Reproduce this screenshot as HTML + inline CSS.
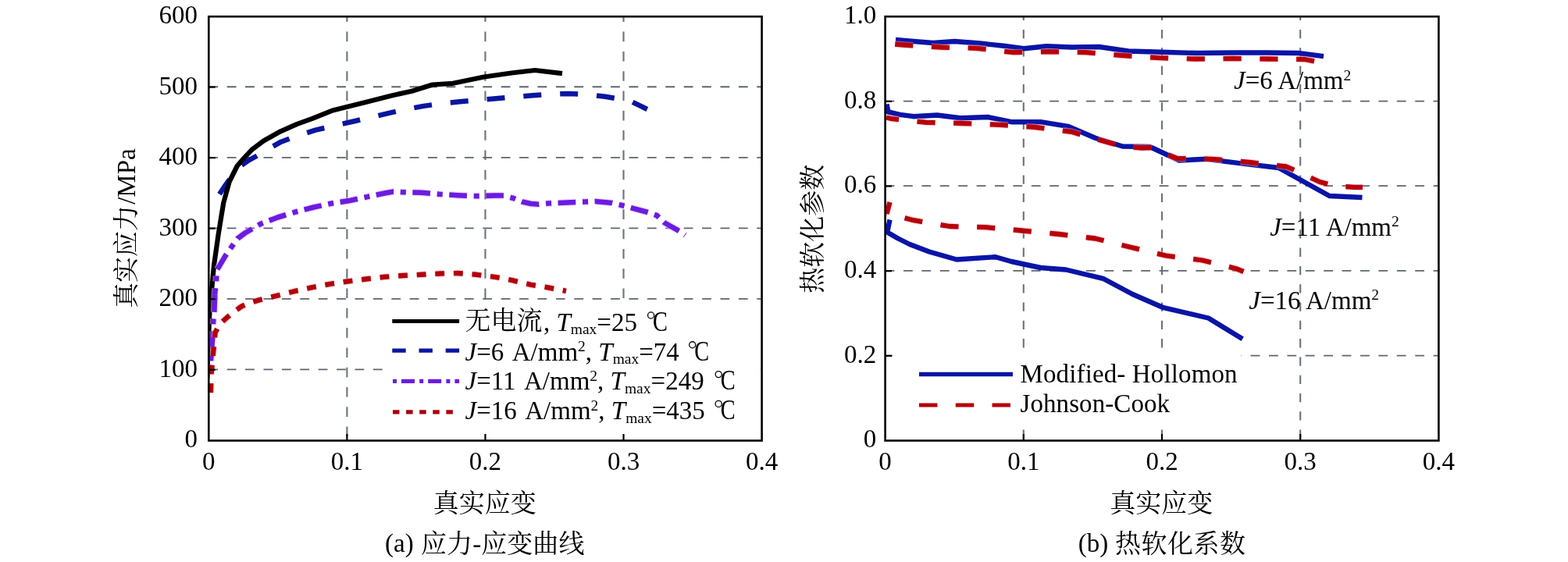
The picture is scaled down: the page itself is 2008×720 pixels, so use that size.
<!DOCTYPE html>
<html><head><meta charset="utf-8"><title>chart</title>
<style>
html,body{margin:0;padding:0;background:#fff;}
svg{display:block;will-change:transform;}
text{font-family:"Liberation Serif","Noto Serif CJK SC",serif;font-size:33px;fill:#000;}
</style></head>
<body>
<svg width="2008" height="720" viewBox="0 0 2008 720">
<rect width="2008" height="720" fill="#fff"/>
<g stroke="#5d656f" stroke-width="1.8" fill="none"><line x1="444.38" y1="21.20" x2="444.38" y2="564.50" stroke-dasharray="12.6 12.7" stroke-dashoffset="5.9" stroke="#69737d" stroke-width="2.1"/><line x1="621.45" y1="21.20" x2="621.45" y2="564.50" stroke-dasharray="12.6 12.7" stroke-dashoffset="5.9" stroke="#69737d" stroke-width="2.1"/><line x1="798.52" y1="21.20" x2="798.52" y2="564.50" stroke-dasharray="12.6 12.7" stroke-dashoffset="5.9" stroke="#69737d" stroke-width="2.1"/><line x1="267.30" y1="111.25" x2="975.60" y2="111.25" stroke-dasharray="11.8 11.6"/><line x1="267.30" y1="201.80" x2="975.60" y2="201.80" stroke-dasharray="11.8 11.6"/><line x1="267.30" y1="292.35" x2="975.60" y2="292.35" stroke-dasharray="11.8 11.6"/><line x1="267.30" y1="382.90" x2="975.60" y2="382.90" stroke-dasharray="11.8 11.6"/><line x1="267.30" y1="473.45" x2="975.60" y2="473.45" stroke-dasharray="11.8 11.6"/></g>
<rect x="493" y="390" width="481" height="172" fill="#fff"/>
<clipPath id="cl"><rect x="267.30" y="21.20" width="708.30" height="543.30"/></clipPath>
<g fill="none" stroke-linejoin="round" clip-path="url(#cl)">
<polyline points="280.0,250.2 287.0,239.7 293.8,230.2 301.0,220.2 308.8,212.2 318.0,205.7 327.5,200.5 343.0,191.2 360.0,181.7 380.0,174.2 404.0,166.7 427.0,161.2 450.5,156.0 473.0,150.7 496.0,145.4 519.0,140.2 542.5,135.9 565.0,132.7 588.8,130.3 612.0,128.2 635.0,126.3 658.0,124.2 682.5,122.3 705.0,120.7 728.8,119.9 752.0,121.1 775.0,123.7 798.0,127.7 810.0,130.7 819.0,135.2 828.8,140.0" stroke="#0a16a0" stroke-width="6.5" stroke-dasharray="23.00 23.95" stroke-dashoffset="-1.80"/>
<polyline points="265.3,485.0 266.0,460.0 267.2,430.0 268.6,395.0 270.3,380.0 274.0,340.0 279.7,300.0 286.2,260.0 293.8,232.5 303.8,212.5 312.5,202.5 322.5,191.8 337.5,180.5 357.5,169.2 380.0,159.2 400.0,151.8 425.0,141.8 445.0,136.8 475.0,129.2 502.5,122.2 527.5,116.8 553.8,108.5 580.0,106.8 620.0,98.5 655.0,93.5 685.0,90.0 720.0,94.2" stroke="#000" stroke-width="6.2"/>
<polyline points="275.2,377.2 275.3,375.0 276.9,360.6 277.5,346.5 288.8,327.5 296.2,316.8 304.4,305.5 313.8,298.5 322.5,293.5 333.8,286.8 355.5,278.5 377.5,271.8 401.8,265.5 425.0,260.5 448.0,257.0 470.0,252.2 493.8,247.2 503.8,245.5 516.2,246.2 539.2,246.8 562.5,248.8 586.2,250.2 610.0,251.2 633.8,250.5 645.0,250.5 657.5,254.0 668.8,258.5 680.0,261.0 690.0,261.8 702.5,260.5 726.2,259.5 750.0,258.5 762.5,258.0 783.8,260.0 796.2,263.0 807.5,266.0 828.8,271.8 841.2,276.0 851.2,285.5 871.2,296.8 877.5,301.2" stroke="#f0b4f8" stroke-opacity="0.55" stroke-width="9.2" stroke-dasharray="7.10 8.50 22.70 8.74" stroke-dashoffset="-16.81"/>
<polyline points="275.2,377.2 275.3,375.0 276.9,360.6 277.5,346.5 288.8,327.5 296.2,316.8 304.4,305.5 313.8,298.5 322.5,293.5 333.8,286.8 355.5,278.5 377.5,271.8 401.8,265.5 425.0,260.5 448.0,257.0 470.0,252.2 493.8,247.2 503.8,245.5 516.2,246.2 539.2,246.8 562.5,248.8 586.2,250.2 610.0,251.2 633.8,250.5 645.0,250.5 657.5,254.0 668.8,258.5 680.0,261.0 690.0,261.8 702.5,260.5 726.2,259.5 750.0,258.5 762.5,258.0 783.8,260.0 796.2,263.0 807.5,266.0 828.8,271.8 841.2,276.0 851.2,285.5 871.2,296.8 877.5,301.2" stroke="#6a1ce2" stroke-width="6.6" stroke-dasharray="7.10 8.50 22.70 8.74" stroke-dashoffset="-16.81"/>
<polyline points="269.4,471.0 270.0,462.5 271.2,445.0 272.5,430.0 273.1,411.9 274.4,398.8 275.2,377.2" stroke="#f0b4f8" stroke-opacity="0.55" stroke-width="9.2" stroke-dasharray="7.10 8.50 22.70 8.74" stroke-dashoffset="-8.63"/>
<polyline points="269.4,471.0 270.0,462.5 271.2,445.0 272.5,430.0 273.1,411.9 274.4,398.8 275.2,377.2" stroke="#6a1ce2" stroke-width="6.6" stroke-dasharray="7.10 8.50 22.70 8.74" stroke-dashoffset="-8.63"/>
<polyline points="269.8,507.0 270.6,478.8 273.1,451.9 275.6,426.2 281.5,415.0 290.6,406.9 300.0,399.0 309.4,392.5 320.0,388.0 331.9,384.4 354.4,378.9 377.5,373.0 400.0,368.2 422.5,363.8 445.0,360.5 468.8,357.5 492.5,354.8 516.2,353.0 540.0,351.8 563.8,350.5 586.2,350.0 610.0,351.8 633.8,354.8 656.2,359.2 680.0,364.8 702.5,368.5 725.0,372.8" stroke="#f8b0cc" stroke-opacity="0.5" stroke-width="8.8" stroke-dasharray="11.90 11.73" stroke-dashoffset="-3.90"/>
<polyline points="269.8,507.0 270.6,478.8 273.1,451.9 275.6,426.2 281.5,415.0 290.6,406.9 300.0,399.0 309.4,392.5 320.0,388.0 331.9,384.4 354.4,378.9 377.5,373.0 400.0,368.2 422.5,363.8 445.0,360.5 468.8,357.5 492.5,354.8 516.2,353.0 540.0,351.8 563.8,350.5 586.2,350.0 610.0,351.8 633.8,354.8 656.2,359.2 680.0,364.8 702.5,368.5 725.0,372.8" stroke="#b40008" stroke-width="6.4" stroke-dasharray="11.90 11.73" stroke-dashoffset="-3.90"/>
</g>
<g stroke="#000" stroke-width="2.2"><line x1="444.38" y1="564.50" x2="444.38" y2="556.00"/><line x1="621.45" y1="564.50" x2="621.45" y2="556.00"/><line x1="798.52" y1="564.50" x2="798.52" y2="556.00"/><line x1="267.30" y1="111.55" x2="275.70" y2="111.55"/><line x1="267.30" y1="202.10" x2="275.70" y2="202.10"/><line x1="267.30" y1="292.65" x2="275.70" y2="292.65"/><line x1="267.30" y1="383.20" x2="275.70" y2="383.20"/><line x1="267.30" y1="473.75" x2="275.70" y2="473.75"/></g>
<rect x="267.30" y="21.20" width="708.30" height="543.30" fill="none" stroke="#000" stroke-width="2.6"/>
<g fill="none">
<line x1="502.3" y1="411.5" x2="588.1" y2="411.5" stroke="#000" stroke-width="5.2"/>
<line x1="502.3" y1="449.2" x2="588.1" y2="449.2" stroke="#0a16a0" stroke-width="5.2" stroke-dasharray="17.4 16.8"/>
<line x1="503" y1="488.4" x2="588.1" y2="488.4" stroke="#6a1ce2" stroke-width="5.2" stroke-dasharray="5 6 17 6.2" />
<line x1="503" y1="527.8" x2="588.1" y2="527.8" stroke="#a8000c" stroke-width="5.2" stroke-dasharray="8.5 8.6"/>
</g>
<g stroke="#5d656f" stroke-width="1.8" fill="none"><line x1="1310.80" y1="21.20" x2="1310.80" y2="564.50" stroke-dasharray="11.3 12.0" stroke-dashoffset="6.5" stroke="#69737d" stroke-width="2.1"/><line x1="1488.00" y1="21.20" x2="1488.00" y2="564.50" stroke-dasharray="11.3 12.0" stroke-dashoffset="6.5" stroke="#69737d" stroke-width="2.1"/><line x1="1665.20" y1="21.20" x2="1665.20" y2="564.50" stroke-dasharray="11.3 12.0" stroke-dashoffset="6.5" stroke="#69737d" stroke-width="2.1"/><line x1="1133.60" y1="129.56" x2="1842.40" y2="129.56" stroke-dasharray="11.8 11.6"/><line x1="1133.60" y1="238.22" x2="1842.40" y2="238.22" stroke-dasharray="11.8 11.6"/><line x1="1133.60" y1="346.88" x2="1842.40" y2="346.88" stroke-dasharray="11.8 11.6"/><line x1="1133.60" y1="455.54" x2="1842.40" y2="455.54" stroke-dasharray="11.8 11.6"/></g>
<rect x="1143" y="447" width="446.5" height="99" fill="#fff"/>
<clipPath id="cr"><rect x="1133.60" y="21.20" width="708.80" height="543.30"/></clipPath>
<g fill="none" stroke-linejoin="round" clip-path="url(#cr)">
<polyline points="1147.0,51.0 1170.0,53.0 1195.0,55.0 1222.5,53.0 1255.0,55.5 1285.0,58.8 1311.2,62.2 1340.0,59.2 1372.5,60.5 1407.5,60.0 1445.0,65.5 1487.5,66.8 1532.5,68.0 1582.5,67.5 1622.0,67.5 1662.5,68.0 1695.0,72.2" stroke="#0a14a6" stroke-width="6.4"/>
<polyline points="1146.0,56.5 1157.5,57.5 1205.0,60.5 1251.2,61.8 1298.0,67.2 1343.8,66.2 1391.2,67.2 1438.0,71.2 1485.0,74.2 1531.2,75.5 1578.8,75.0 1625.0,75.5 1671.0,76.0 1684.0,78.5" stroke="#f8b0cc" stroke-opacity="0.5" stroke-width="8.6" stroke-dasharray="23.20 23.59" stroke-dashoffset="-0.18"/>
<polyline points="1146.0,56.5 1157.5,57.5 1205.0,60.5 1251.2,61.8 1298.0,67.2 1343.8,66.2 1391.2,67.2 1438.0,71.2 1485.0,74.2 1531.2,75.5 1578.8,75.0 1625.0,75.5 1671.0,76.0 1684.0,78.5" stroke="#b80007" stroke-width="6.3" stroke-dasharray="23.20 23.59" stroke-dashoffset="-0.18"/>
<polyline points="1135.5,133.5 1137.5,143.5 1152.5,146.8 1170.0,149.2 1200.0,147.5 1230.0,151.2 1265.0,150.0 1295.0,156.2 1332.5,156.2 1367.5,161.8 1402.5,176.8 1437.5,187.5 1472.5,188.0 1510.0,205.5 1545.0,203.8 1587.5,209.2 1637.5,215.0 1702.5,251.0 1744.5,253.0" stroke="#0a14a6" stroke-width="6.4"/>
<polyline points="1135.0,150.5 1142.5,152.2 1186.2,156.8 1232.5,158.0 1280.0,159.8 1326.2,163.0 1372.0,168.8 1416.8,181.8 1437.5,187.5 1462.5,189.5 1472.5,189.0 1507.5,203.0 1553.0,203.8 1600.0,208.0 1647.5,213.5 1690.0,233.0 1710.0,238.5 1734.2,239.8 1745.0,239.8" stroke="#f8b0cc" stroke-opacity="0.5" stroke-width="8.6" stroke-dasharray="23.20 23.50" stroke-dashoffset="-39.84"/>
<polyline points="1135.0,150.5 1142.5,152.2 1186.2,156.8 1232.5,158.0 1280.0,159.8 1326.2,163.0 1372.0,168.8 1416.8,181.8 1437.5,187.5 1462.5,189.5 1472.5,189.0 1507.5,203.0 1553.0,203.8 1600.0,208.0 1647.5,213.5 1690.0,233.0 1710.0,238.5 1734.2,239.8 1745.0,239.8" stroke="#b80007" stroke-width="6.3" stroke-dasharray="23.20 23.50" stroke-dashoffset="-39.84"/>
<polyline points="1139.5,281.5 1136.2,297.5 1150.0,305.5 1165.0,313.0 1190.0,322.5 1225.0,332.5 1275.0,329.2 1295.0,335.0 1332.5,343.0 1365.0,345.5 1412.5,356.8 1450.0,376.8 1490.0,394.2 1547.5,407.5 1591.2,434.2" stroke="#0a14a6" stroke-width="6.4"/>
<polyline points="1139.5,259.0 1135.5,274.0 1150.0,277.0 1170.0,282.2 1216.2,290.0 1262.5,291.2 1308.8,295.5 1356.2,300.0 1402.5,305.5 1448.0,316.8 1493.0,327.5 1540.0,333.5 1583.0,344.2 1592.5,348.0" stroke="#f8b0cc" stroke-opacity="0.5" stroke-width="8.6" stroke-dasharray="23.20 23.59" stroke-dashoffset="-39.18"/>
<polyline points="1139.5,259.0 1135.5,274.0 1150.0,277.0 1170.0,282.2 1216.2,290.0 1262.5,291.2 1308.8,295.5 1356.2,300.0 1402.5,305.5 1448.0,316.8 1493.0,327.5 1540.0,333.5 1583.0,344.2 1592.5,348.0" stroke="#b80007" stroke-width="6.3" stroke-dasharray="23.20 23.59" stroke-dashoffset="-39.18"/>
</g>
<g stroke="#000" stroke-width="2.2"><line x1="1310.80" y1="564.50" x2="1310.80" y2="556.00"/><line x1="1488.00" y1="564.50" x2="1488.00" y2="556.00"/><line x1="1665.20" y1="564.50" x2="1665.20" y2="556.00"/><line x1="1133.60" y1="129.86" x2="1142.00" y2="129.86"/><line x1="1133.60" y1="238.52" x2="1142.00" y2="238.52"/><line x1="1133.60" y1="347.18" x2="1142.00" y2="347.18"/><line x1="1133.60" y1="455.84" x2="1142.00" y2="455.84"/></g>
<rect x="1133.60" y="21.20" width="708.80" height="543.30" fill="none" stroke="#000" stroke-width="2.6"/>
<line x1="1177" y1="479.5" x2="1297" y2="479.5" stroke="#0a14a6" stroke-width="5.4"/>
<line x1="1177" y1="519" x2="1297" y2="519" stroke="#b80007" stroke-width="5.2" stroke-dasharray="23.5 23.25"/>
<g><text x="253.00" y="30.00" text-anchor="end">600</text>
<text x="253.00" y="120.55" text-anchor="end">500</text>
<text x="253.00" y="211.10" text-anchor="end">400</text>
<text x="253.00" y="301.65" text-anchor="end">300</text>
<text x="253.00" y="392.20" text-anchor="end">200</text>
<text x="253.00" y="482.75" text-anchor="end">100</text>
<text x="253.00" y="573.30" text-anchor="end">0</text>
<text x="267.30" y="601.60" text-anchor="middle">0</text>
<text x="444.38" y="601.60" text-anchor="middle">0.1</text>
<text x="621.45" y="601.60" text-anchor="middle">0.2</text>
<text x="798.52" y="601.60" text-anchor="middle">0.3</text>
<text x="975.60" y="601.60" text-anchor="middle">0.4</text>
<text x="1122.30" y="30.00" text-anchor="end">1.0</text>
<text x="1122.30" y="138.66" text-anchor="end">0.8</text>
<text x="1122.30" y="247.32" text-anchor="end">0.6</text>
<text x="1122.30" y="355.98" text-anchor="end">0.4</text>
<text x="1122.30" y="464.64" text-anchor="end">0.2</text>
<text x="1122.30" y="573.30" text-anchor="end">0</text>
<text x="1133.60" y="601.60" text-anchor="middle">0</text>
<text x="1310.80" y="601.60" text-anchor="middle">0.1</text>
<text x="1488.00" y="601.60" text-anchor="middle">0.2</text>
<text x="1665.20" y="601.60" text-anchor="middle">0.3</text>
<text x="1842.40" y="601.60" text-anchor="middle">0.4</text>
<text x="1580.00" y="113.80" text-anchor="start"><tspan font-style="italic">J</tspan>=6 A/mm<tspan font-size="19.5" dy="-11.3">2</tspan><tspan dy="11.3"></tspan></text>
<text x="1626.20" y="301.50" text-anchor="start"><tspan font-style="italic">J</tspan>=11 A/mm<tspan font-size="19.5" dy="-11.3">2</tspan><tspan dy="11.3"></tspan></text>
<text x="1599.30" y="395.60" text-anchor="start"><tspan font-style="italic">J</tspan>=16 A/mm<tspan font-size="19.5" dy="-11.3">2</tspan><tspan dy="11.3"></tspan></text>
<text x="1306.50" y="490.00" text-anchor="start" letter-spacing="0.13">Modified- Hollomon</text>
<text x="1306.50" y="528.00" text-anchor="start" letter-spacing="0.08">Johnson-Cook</text>
<text x="695.90" y="423.80" text-anchor="start">, <tspan font-style="italic">T</tspan><tspan font-size="19.5" dy="4.6">max</tspan><tspan dy="-4.6">=25</tspan></text>
<text x="595.50" y="461.60" text-anchor="start"><tspan font-style="italic">J</tspan>=6<tspan dx="4"> A/mm</tspan><tspan font-size="19.5" dy="-11.3">2</tspan><tspan dy="11.3">, <tspan font-style="italic">T</tspan><tspan font-size="19.5" dy="4.6">max</tspan><tspan dy="-4.6">=74</tspan></tspan></text>
<text x="595.50" y="499.40" text-anchor="start"><tspan font-style="italic">J</tspan>=11<tspan dx="4"> A/mm</tspan><tspan font-size="19.5" dy="-11.3">2</tspan><tspan dy="11.3">, <tspan font-style="italic">T</tspan><tspan font-size="19.5" dy="4.6">max</tspan><tspan dy="-4.6">=249</tspan></tspan></text>
<text x="595.50" y="537.20" text-anchor="start"><tspan font-style="italic">J</tspan>=16<tspan dx="4"> A/mm</tspan><tspan font-size="19.5" dy="-11.3">2</tspan><tspan dy="11.3">, <tspan font-style="italic">T</tspan><tspan font-size="19.5" dy="4.6">max</tspan><tspan dy="-4.6">=435</tspan></tspan></text>
<text x="493.00" y="707.20" text-anchor="start">(a)</text>
<text x="1380.80" y="707.20" text-anchor="start">(b)</text></g>
<g fill="#000"><text x="595.50" y="421.50" font-size="33.3">无电流</text>
<circle cx="833.60" cy="404.00" r="4.05" fill="none" stroke="#000" stroke-width="1.3"/><text transform="translate(836.10,423.80) scale(0.86,1.06)" x="0" y="0">C</text>
<circle cx="886.70" cy="441.80" r="4.05" fill="none" stroke="#000" stroke-width="1.3"/><text transform="translate(889.20,461.60) scale(0.86,1.06)" x="0" y="0">C</text>
<circle cx="920.20" cy="479.60" r="4.05" fill="none" stroke="#000" stroke-width="1.3"/><text transform="translate(922.70,499.40) scale(0.86,1.06)" x="0" y="0">C</text>
<circle cx="920.20" cy="517.40" r="4.05" fill="none" stroke="#000" stroke-width="1.3"/><text transform="translate(922.70,537.20) scale(0.86,1.06)" x="0" y="0">C</text>
<text x="554.75" y="656.20" font-size="33.3">真实应变</text>
<text x="1421.20" y="656.20" font-size="33.3">真实应变</text>
<text x="539.00" y="708.10" font-size="33.3" textLength="209.4" lengthAdjust="spacing">应力-应变曲线</text>
<text x="1428.10" y="708.10" font-size="33.3" textLength="166.9" lengthAdjust="spacing">热软化系数</text>
<g transform="translate(173.3,395) rotate(-90)"><text x="0" y="0" font-size="33.3">真实应力</text><text x="133.20" y="0">/MPa</text></g>
<g transform="translate(1052,375.7) rotate(-90)"><text x="0" y="0" font-size="33.3">热软化参数</text></g></g>
</svg>
</body></html>
